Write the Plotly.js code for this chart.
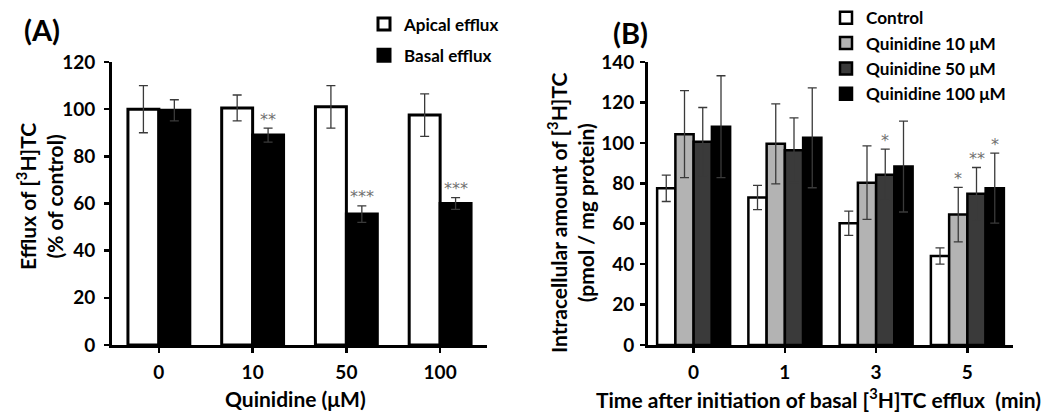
<!DOCTYPE html>
<html>
<head>
<meta charset="utf-8">
<script src="https://cdn.plot.ly/plotly-3.0.1.min.js"></script>
<style>html,body{margin:0;padding:0;background:#fff;}#chart{width:1052px;height:413px;}</style>
</head>
<body>
<div id="chart"></div>
<script>
// ---- Panel A data ----
const catsA = ['0', '10', '50', '100'];
const apical = [100, 100.5, 101, 97.5];
const apicalErr = [10, 5.5, 9, 9];
const basal = [99.5, 89, 55.5, 60];
const basalErr = [4.5, 3, 3.5, 2.5];
const apicalSig = ['', '', '', ''];
const basalSig = ['', '**', '***', '***'];

// ---- Panel B data ----
const catsB = ['0', '1', '3', '5'];
const control = [77.5, 73, 60.2, 44];
const controlErr = [6.5, 6, 6, 4];
const q10 = [104.3, 99.5, 80.3, 64.5];
const q10Err = [21.5, 19.8, 18.2, 13.5];
const q50 = [100.5, 96.4, 84.2, 74.8];
const q50Err = [17, 16, 12.7, 13];
const q100 = [108, 102.5, 88.3, 77.6];
const q100Err = [25.2, 24.7, 22.5, 17.3];
const controlSig = ['', '', '', ''];
const q10Sig = ['', '', '', '*'];
const q50Sig = ['', '', '*', '**'];
const q100Sig = ['', '', '', '*'];

// ---- text ----
const xTitleA = 'Quinidine (μM)';
const yTitleA = 'Efflux of [<sup>3</sup>H]TC<br>(% of control)';
const xTitleB = 'Time after initiation of basal [<sup>3</sup>H]TC efflux  (min)';
const yTitleB = 'Intracellular amount of [<sup>3</sup>H]TC<br>(pmol / mg protein)';

const FONT = 'Lato, "Open Sans", sans-serif';
const W = 1052, H = 413;

function barTrace(name, cats, vals, errs, fill, width, offset, xa, ya, legend, lw) {
  return {
    type: 'bar', name: name, x: cats, y: vals,
    xaxis: xa, yaxis: ya, legend: legend, legendgroup: name,
    width: width, offset: offset,
    marker: {color: fill, line: {color: '#000', width: lw}},
    error_y: {type: 'data', array: errs, visible: true, color: '#3a3a3a', thickness: 1.3, width: 4.5},
    hoverinfo: 'skip'
  };
}

const wA = 0.33, wB = 0.2;
const traces = [
  barTrace('Apical efflux', catsA, apical, apicalErr, '#ffffff', wA, -wA, 'x', 'y', 'legend', 3),
  barTrace('Basal efflux', catsA, basal, basalErr, '#000000', wA, 0, 'x', 'y', 'legend', 3),
  barTrace('Control', catsB, control, controlErr, '#ffffff', wB, -2 * wB, 'x2', 'y2', 'legend2', 2.5),
  barTrace('Quinidine 10 μM', catsB, q10, q10Err, '#b3b3b3', wB, -wB, 'x2', 'y2', 'legend2', 2.5),
  barTrace('Quinidine 50 μM', catsB, q50, q50Err, '#3a3a3a', wB, 0, 'x2', 'y2', 'legend2', 2.5),
  barTrace('Quinidine 100 μM', catsB, q100, q100Err, '#000000', wB, wB, 'x2', 'y2', 'legend2', 2.5)
];

const tickFont = {family: FONT, size: 19, color: '#000', weight: 'bold'};
const axCommon = {
  showline: true, linecolor: '#000', linewidth: 3,
  ticks: 'outside', ticklen: 5, tickwidth: 2.5, tickcolor: '#000',
  showgrid: false, zeroline: false, tickfont: tickFont, fixedrange: true
};
// unlabelled overlay axis giving the tick marks at category boundaries
function boundaryAxis(over, anchor, n) {
  return {
    overlaying: over, anchor: anchor, side: 'bottom', range: [-0.5, n - 0.5],
    tickmode: 'linear', tick0: -0.5, dtick: 1, showticklabels: false,
    ticks: 'outside', ticklen: 5, tickwidth: 2.5, tickcolor: '#000',
    showline: false, showgrid: false, zeroline: false, fixedrange: true
  };
}

const yBot = 1 - 345 / H, yTop = 1 - 62 / H;

const annotations = [];
function addSig(sig, vals, errs, off, xref, yref) {
  sig.forEach((s, i) => {
    if (!s) return;
    annotations.push({
      xref: xref, yref: yref, x: i + off, y: vals[i] + errs[i],
      text: s, showarrow: false, yanchor: 'middle', yshift: 9,
      font: {family: 'DejaVu Sans', size: 16, color: '#707070'}
    });
  });
}
addSig(apicalSig, apical, apicalErr, -wA / 2, 'x', 'y');
addSig(basalSig, basal, basalErr, wA / 2, 'x', 'y');
addSig(controlSig, control, controlErr, -1.5 * wB, 'x2', 'y2');
addSig(q10Sig, q10, q10Err, -0.5 * wB, 'x2', 'y2');
addSig(q50Sig, q50, q50Err, 0.5 * wB, 'x2', 'y2');
addSig(q100Sig, q100, q100Err, 1.5 * wB, 'x2', 'y2');

function paperText(text, px, py, size, angle) {
  return {xref: 'paper', yref: 'paper', x: px / W, y: 1 - py / H, text: text, showarrow: false,
          xanchor: 'center', yanchor: 'middle', textangle: angle || 0,
          font: {family: FONT, size: size, color: '#000', weight: 'bold'}};
}
annotations.push(
  paperText('(A)', 42, 30, 29),
  paperText('(B)', 630, 32, 29),
  paperText(xTitleA, 295, 398, 21),
  paperText(xTitleB, 818, 398, 21),
  paperText(yTitleA, 39, 197, 21, -90),
  paperText(yTitleB, 570, 213, 21, -90)
);

const legendA = {family: FONT, size: 17, color: '#000', weight: 'bold'};
const legendB = {family: FONT, size: 17.2, color: '#000', weight: 'bold'};

const layout = {
  width: W, height: H,
  margin: {l: 0, r: 0, t: 0, b: 0},
  paper_bgcolor: '#fff', plot_bgcolor: 'rgba(0,0,0,0)',
  barmode: 'overlay',
  showlegend: true,
  legend: {x: 364 / W, y: 1 - 6.5 / H, xanchor: 'left', yanchor: 'top', bgcolor: 'rgba(0,0,0,0)',
           font: legendA, traceorder: 'grouped', tracegroupgap: 6, borderwidth: 0},
  legend2: {x: 826 / W, y: 1, xanchor: 'left', yanchor: 'top', bgcolor: 'rgba(0,0,0,0)',
            font: legendB, traceorder: 'grouped', tracegroupgap: 0, borderwidth: 0},
  xaxis: Object.assign({}, axCommon, {
    domain: [112 / W, 487 / W], anchor: 'y', type: 'category', range: [-0.5, catsA.length - 0.5],
    ticklabelstandoff: 3
  }),
  xaxis3: boundaryAxis('x', 'y', catsA.length),
  yaxis: Object.assign({}, axCommon, {
    domain: [yBot, yTop], anchor: 'x', range: [0, 120], dtick: 20, ticklabelstandoff: 5
  }),
  xaxis2: Object.assign({}, axCommon, {
    domain: [648 / W, 1013 / W], anchor: 'y2', type: 'category', range: [-0.5, catsB.length - 0.5],
    ticklabelstandoff: 3
  }),
  xaxis4: boundaryAxis('x2', 'y2', catsB.length),
  yaxis2: Object.assign({}, axCommon, {
    domain: [yBot, yTop], anchor: 'x2', range: [0, 140], dtick: 20, ticklabelstandoff: 2
  }),
  annotations: annotations
};

Plotly.newPlot('chart', traces, layout, {displayModeBar: false, staticPlot: true});
</script>
</body>
</html>
